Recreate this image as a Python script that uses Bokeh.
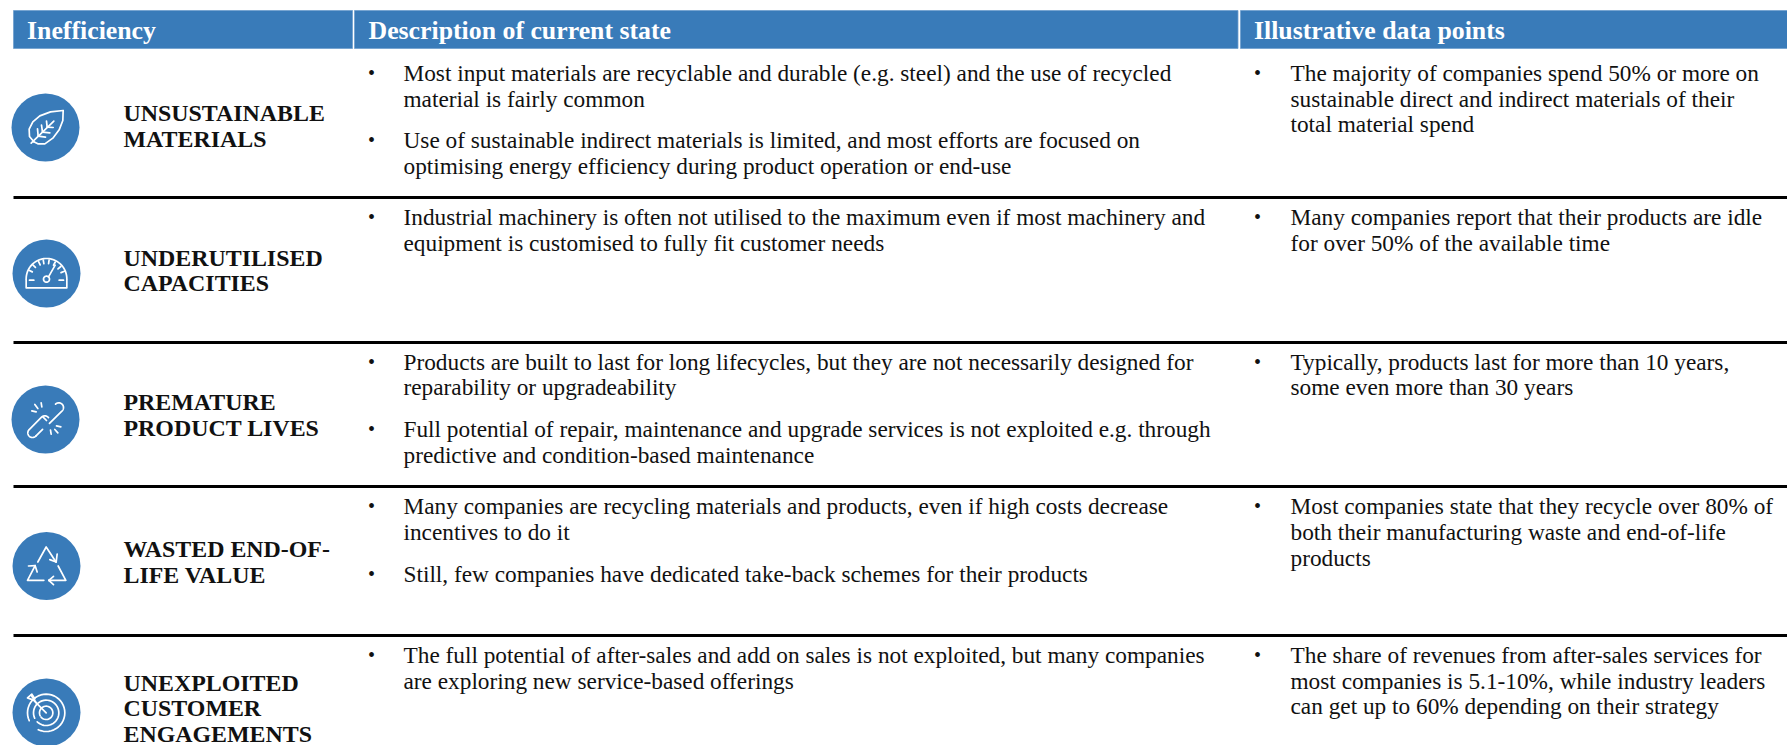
import numpy as np
from bokeh.plotting import figure
from bokeh.models import Range1d
from bokeh.core.properties import value
from bokeh.embed import file_html
from bokeh.resources import INLINE

# ---- content ----
headers = ["Inefficiency", "Description of current state", "Illustrative data points"]
categories = [
    ["UNSUSTAINABLE", "MATERIALS"],
    ["UNDERUTILISED", "CAPACITIES"],
    ["PREMATURE", "PRODUCT LIVES"],
    ["WASTED END-OF-", "LIFE VALUE"],
    ["UNEXPLOITED", "CUSTOMER", "ENGAGEMENTS"],
]
descriptions = [
    [["Most input materials are recyclable and durable (e.g. steel) and the use of recycled", "material is fairly common"],
     ["Use of sustainable indirect materials is limited, and most efforts are focused on", "optimising energy efficiency during product operation or end-use"]],
    [["Industrial machinery is often not utilised to the maximum even if most machinery and", "equipment is customised to fully fit customer needs"]],
    [["Products are built to last for long lifecycles, but they are not necessarily designed for", "reparability or upgradeability"],
     ["Full potential of repair, maintenance and upgrade services is not exploited e.g. through", "predictive and condition-based maintenance"]],
    [["Many companies are recycling materials and products, even if high costs decrease", "incentives to do it"],
     ["Still, few companies have dedicated take-back schemes for their products"]],
    [["The full potential of after-sales and add on sales is not exploited, but many companies", "are exploring new service-based offerings"]],
]
data_points = [
    ["The majority of companies spend 50% or more on", "sustainable direct and indirect materials of their", "total material spend"],
    ["Many companies report that their products are idle", "for over 50% of the available time"],
    ["Typically, products last for more than 10 years,", "some even more than 30 years"],
    ["Most companies state that they recycle over 80% of", "both their manufacturing waste and end-of-life", "products"],
    ["The share of revenues from after-sales services for", "most companies is 5.1-10%, while industry leaders", "can get up to 60% depending on their strategy"],
]

# ---- layout (page pixels) ----
BLUE = "#397bb9"
INK = "#111111"
SERIF = value("Liberation Serif")
TEXT_SHIFT = -8
BODY_SHIFT = -9
header_boxes = [(13, 352), (354, 1237.5), (1240, 1787)]
header_text_x = [26.5, 368, 1253.5]
rule_y = [197, 342, 486, 635]
icon_centers = [(45, 127), (46, 273), (45, 419), (46, 565.5), (46, 712)]
label_y = [[120, 146], [265, 290], [409, 435], [556, 582], [690, 715, 741]]
desc_y = [[[81, 107], [148, 174]], [[225, 251]], [[370, 395], [437, 463]], [[514, 540], [582]], [[663, 689]]]
data_y = [[81, 107, 132], [225, 251], [370, 395], [514, 540, 566], [663, 689, 714]]

p = figure(width=1787, height=745, x_range=Range1d(0, 1787), y_range=Range1d(745, 0),
           x_axis_type=None, y_axis_type=None, toolbar_location=None,
           output_backend="svg", min_border=0, outline_line_color=None,
           background_fill_color="white", border_fill_color="white")
p.grid.visible = False

# header band
p.quad(left=[b[0] for b in header_boxes], right=[b[1] for b in header_boxes],
       top=[10] * 3, bottom=[48] * 3, fill_color=BLUE, line_color="#6f9fce", line_width=0.8)
p.text(x=header_text_x, y=[38 + TEXT_SHIFT] * 3, text=headers, text_color="white", text_font=SERIF,
       text_font_style="bold", text_font_size="25.8px", text_baseline="alphabetic")

# rules
p.segment(x0=[13] * 4, x1=[1787] * 4, y0=rule_y, y1=rule_y, line_color="black", line_width=3)


def put(xs, ys, txt, style="normal", size="23.3px", shift=BODY_SHIFT):
    p.text(x=xs, y=[y + shift for y in ys], text=txt, text_color=INK, text_font=SERIF,
           text_font_style=style, text_font_size=size, text_baseline="alphabetic")


# category labels
lx, ly, lt = [], [], []
for lines, ys in zip(categories, label_y):
    for line, y in zip(lines, ys):
        lx.append(123); ly.append(y); lt.append(line)
put(lx, ly, lt, "bold", "23.9px", TEXT_SHIFT)

# description column and data point column
tx, ty, tt, bx, by = [], [], [], [], []
for bullets, ys_row in zip(descriptions, desc_y):
    for lines, ys in zip(bullets, ys_row):
        bx.append(367.5); by.append(ys[0])
        for line, y in zip(lines, ys):
            tx.append(403); ty.append(y); tt.append(line)
for lines, ys in zip(data_points, data_y):
    bx.append(1253.5); by.append(ys[0])
    for line, y in zip(lines, ys):
        tx.append(1290); ty.append(y); tt.append(line)
put(tx, ty, tt)
put(bx, by, ["•"] * len(bx), "normal", "20px")

# icons: discs
p.circle(x=[c[0] for c in icon_centers], y=[c[1] for c in icon_centers], radius=34,
         fill_color=BLUE, line_color=None)


def arc(cx, cy, r, a0, a1, n=40):
    t = np.radians(np.linspace(a0, a1, n))
    return list(zip(cx + r * np.cos(t), cy + r * np.sin(t)))


def capsule(x0, y0, x1, y1, r):
    ang = np.degrees(np.arctan2(y1 - y0, x1 - x0))
    pts = arc(x0, y0, r, ang + 90, ang + 270) + arc(x1, y1, r, ang - 90, ang + 90)
    return pts + pts[:1]


def midpoint(a, b, f=0.5):
    return (a[0] + (b[0] - a[0]) * f, a[1] + (b[1] - a[1]) * f)


# icon strokes in 3x-zoom units around each disc's centre
leaf = [
    [(188, 330), (150, 334), (118, 346), (97, 364), (86, 386), (87, 408), (100, 424)],
    [(188, 330), (187, 360), (176, 388), (157, 413), (133, 430), (112, 430), (100, 424)],
    [(92, 428), (160, 362)],
    [(113, 407), (111, 385)], [(113, 407), (135, 410)],
    [(126, 395), (123, 374)], [(126, 395), (148, 397)],
    [(140, 380), (138, 362)], [(140, 380), (158, 381)],
]
gauge_ticks = []
for a, r0, r1 in [(-155, 47, 58), (-135, 47, 58), (-115, 45, 56), (-100, 45, 56), (-82, 45, 56), (-62, 45, 56), (-40, 45, 56), (-22, 47, 58)]:
    t = np.radians(a)
    gauge_ticks.append([(139 + r0 * np.cos(t), 175 + r0 * np.sin(t)), (139 + r1 * np.cos(t), 175 + r1 * np.sin(t))])
gauge = [
    [(78, 178), (78, 203), (200, 203), (200, 178)],
    arc(139, 176, 61, 180, 360),
    arc(139, 177, 9, 0, 360),
    [(145, 170), (165, 135)],
    [(88, 180), (101, 180)], [(177, 180), (190, 180)],
] + gauge_ticks
low = capsule(96, 638, 133, 601, 14)
up = capsule(137, 600, 175, 562, 14)
chain = [
    low[:62],
    [low[0], midpoint(low[0], low[79], 0.55)],
    up[40:],
    [up[39], midpoint(up[39], up[0], 0.55)],
    [(103, 553), (112, 565)], [(122, 548), (124, 560)], [(94, 572), (107, 575)],
    [(150, 630), (152, 642)], [(163, 628), (172, 638)], [(168, 617), (181, 620)],
]
recycle = [
    [(113, 185), (138, 140), (167, 184)], [(168, 185), (149, 178)], [(168, 185), (171, 161)],
    [(174, 197), (197, 240), (146, 240)], [(146, 240), (160, 228)], [(146, 240), (160, 253)],
    [(131, 240), (82, 240), (105, 196)], [(105, 196), (85, 197)], [(105, 196), (111, 215)],
]
target = [
    arc(138, 635, 56, -205, 115),
    arc(138, 635, 38, -205, 135),
    arc(138, 635, 20, -205, 140),
    [(138, 635), (100, 597)],
    [(100, 597), (82, 590), (95, 579), (104, 593)],
    [(93, 582), (108, 605)],
]
frames = [(135, 381), (139, 160), (135, 598), (139, 197), (139, 634)]
icons = [leaf, gauge, chain, recycle, target]
xs, ys = [], []
for (cx, cy), (fx, fy), strokes in zip(icon_centers, frames, icons):
    for s in strokes:
        xs.append([cx + (pt[0] - fx) / 3 for pt in s])
        ys.append([cy + (pt[1] - fy) / 3 for pt in s])
p.multi_line(xs=xs, ys=ys, line_color="white", line_width=1.7, line_cap="round", line_join="round")

open("out.html", "w").write(file_html(p, INLINE))
